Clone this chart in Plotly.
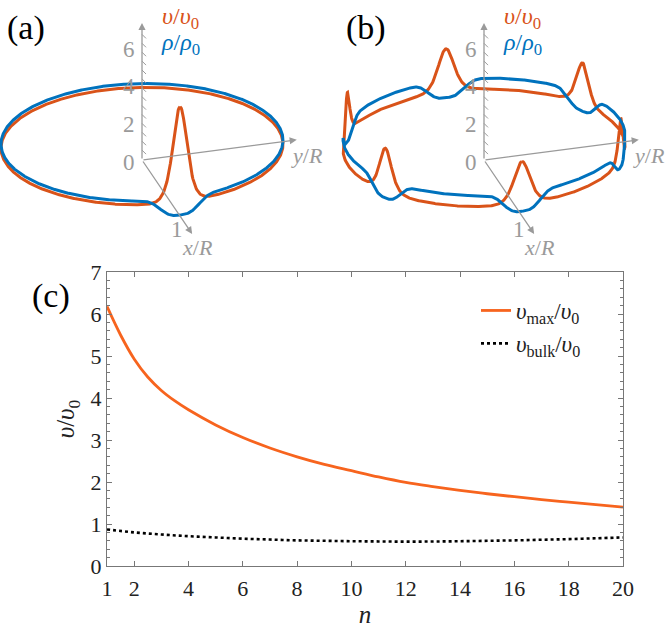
import numpy as np
import plotly.graph_objects as go

# ---------------- Panel (c) data ----------------
n_max = [1, 1.5, 2, 2.5, 3, 3.5, 4, 5, 6, 7, 8, 9, 10, 11, 12, 13, 14, 15, 16, 17, 18, 19, 20]
v_max = [6.18, 5.50, 4.93, 4.50, 4.18, 3.93, 3.72, 3.36, 3.06, 2.81, 2.60, 2.42, 2.27,
         2.12, 1.99, 1.89, 1.80, 1.72, 1.65, 1.58, 1.52, 1.46, 1.40]
n_bulk = list(range(1, 21))
v_bulk = [0.87, 0.80, 0.75, 0.71, 0.68, 0.65, 0.63, 0.61, 0.60, 0.59,
          0.585, 0.58, 0.583, 0.59, 0.60, 0.61, 0.625, 0.64, 0.66, 0.68]
x_tick_vals = [1, 2, 4, 6, 8, 10, 12, 14, 16, 18, 20]
y_tick_vals = [0, 1, 2, 3, 4, 5, 6, 7]

# ---------------- Panels (a), (b): ring profiles ----------------
ring_a_peak_angles = [0]
ring_a_v_peak = [6.14]
ring_a_rho_min = [0.05]
ring_a_v_base = 0.78
ring_a_rho_base = 1.0
ring_a_v_width = 4.0
ring_a_rho_width = 9.5

ring_b_peak_angles = [0, 60, 120, 180, 240, 300]
ring_b_v_peak = [3.06, 3.06, 3.02, 3.10, 3.08, 3.10]
ring_b_rho_min = [0.26, 0.3, 0.3, 0.35, 0.3, 0.3]
ring_b_v_base = 0.68
ring_b_rho_base = 1.3
ring_b_v_width = 4.5
ring_b_rho_width = 9.0

axis3d_tick_labels = [0, 2, 4, 6]
axis3d_hook_levels = [0.5 * k for k in range(1, 15)]

ORANGE = "#D95319"
BLUE = "#0072BD"
ORANGE_C = "#F7641E"
GRAY = "#9a9a9a"
FONT = "'Liberation Serif', 'Times New Roman', Times, serif"

# projection (pixels per unit)
EX = (38.0, 56.0)
EY = (135.8, -17.7)
EZ = 17.8


def profiles(angles, v_peak, rho_min, v_base, rho_base, wv, wr):
    phi = np.arange(0, 360.25, 0.25)
    v = np.full_like(phi, v_base)
    rho = np.full_like(phi, rho_base)
    for a, vp, rm in zip(angles, v_peak, rho_min):
        d = (phi - a + 180) % 360 - 180
        v += (vp - v_base) / np.cosh(d / wv) ** 2
        rho -= (rho_base - rm) * np.exp(-np.abs(d / wr) ** 3)
    return phi, v, rho


def project(ox, oy, x, y, z):
    X = ox + EX[0] * x + EY[0] * y
    Y = oy + EX[1] * x + EY[1] * y - EZ * z
    return X, Y


fig = go.Figure()

# ---------- panel (c) ----------
fig.add_trace(go.Scatter(x=n_max, y=v_max, mode="lines", line=dict(color=ORANGE_C, width=2.8, shape="spline"),
                         name="<i>υ</i><sub>max</sub>/<i>υ</i><sub>0</sub>", legendgroup="g1"))
fig.add_trace(go.Scatter(x=n_bulk, y=v_bulk, mode="lines", line=dict(color="black", width=2.6, dash="dot", shape="spline"),
                         name="<i>υ</i><sub>bulk</sub>/<i>υ</i><sub>0</sub>", legendgroup="g2"))

annotations = []

panels = [
    ("x2", "y2", 142.0, 160.0, ring_a_peak_angles, ring_a_v_peak, ring_a_rho_min, ring_a_v_base, ring_a_rho_base,
     ring_a_v_width, ring_a_rho_width),
    ("x3", "y3", 151.0, 160.0, ring_b_peak_angles, ring_b_v_peak, ring_b_rho_min, ring_b_v_base, ring_b_rho_base,
     ring_b_v_width, ring_b_rho_width),
]

for xr, yr, ox, oy, ang, vp, rm, vb, rb, wv, wr in panels:
    phi, v, rho = profiles(ang, vp, rm, vb, rb, wv, wr)
    c, s = np.cos(np.radians(phi)), np.sin(np.radians(phi))
    Xv, Yv = project(ox, oy, c, s, v)
    Xr, Yr = project(ox, oy, c, s, rho)
    fig.add_trace(go.Scatter(x=Xv, y=Yv, mode="lines", line=dict(color=ORANGE, width=3), xaxis=xr, yaxis=yr,
                             showlegend=False, hoverinfo="skip"))
    fig.add_trace(go.Scatter(x=Xr, y=Yr, mode="lines", line=dict(color=BLUE, width=3), xaxis=xr, yaxis=yr,
                             showlegend=False, hoverinfo="skip"))
    # hooks on vertical axis
    hx, hy = [], []
    for lv in axis3d_hook_levels:
        px, py = project(ox, oy, 0, 0, lv)
        hx += [px, px + 4, None]
        hy += [py - 1, py + 3, None]
    fig.add_trace(go.Scatter(x=hx, y=hy, mode="lines", line=dict(color=GRAY, width=1), xaxis=xr, yaxis=yr,
                             showlegend=False, hoverinfo="skip"))
    # axes arrows
    tips = [project(ox, oy, 0, 0, 7.7), project(ox, oy, 0, 1.14, 0), project(ox, oy, 1.32, 0, 0)]
    for tx, ty in tips:
        annotations.append(dict(x=tx, y=ty, ax=ox, ay=oy, xref=xr, yref=yr, axref=xr, ayref=yr, text="",
                                showarrow=True, arrowhead=2, arrowsize=1.1, arrowwidth=1.3, arrowcolor=GRAY))
    for t in axis3d_tick_labels:
        annotations.append(dict(x=ox - 13, y=oy + 2 - 18.8 * t, xref=xr, yref=yr, text=str(t), showarrow=False,
                                xanchor="center", yanchor="middle",
                                font=dict(family=FONT, size=23, color=GRAY)))
    fx, fy = project(ox, oy, 1, 0, 0)
    annotations.append(dict(x=fx - 3, y=fy + 13, xref=xr, yref=yr, text="1", showarrow=False,
                            xanchor="center", yanchor="middle", font=dict(family=FONT, size=23, color=GRAY)))
    annotations.append(dict(x=ox + 165, y=oy - 5, xref=xr, yref=yr, text="<i>y</i>/<i>R</i>", showarrow=False,
                            xanchor="center", yanchor="middle", font=dict(family=FONT, size=22, color=GRAY)))
    annotations.append(dict(x=ox + 55, y=oy + 87, xref=xr, yref=yr, text="<i>x</i>/<i>R</i>", showarrow=False,
                            xanchor="center", yanchor="middle", font=dict(family=FONT, size=22, color=GRAY)))
    annotations.append(dict(x=ox + 38, y=18, xref=xr, yref=yr, text="<i>υ</i>/<i>υ</i><sub>0</sub>",
                            showarrow=False, xanchor="center", yanchor="middle",
                            font=dict(family=FONT, size=24, color=ORANGE)))
    annotations.append(dict(x=ox + 38, y=44, xref=xr, yref=yr, text="<i>ρ</i>/<i>ρ</i><sub>0</sub>",
                            showarrow=False, xanchor="center", yanchor="middle",
                            font=dict(family=FONT, size=24, color=BLUE)))

W, H = 666, 629
for lbl, px, py in [("(a)", 26, 28), ("(b)", 366, 28), ("(c)", 51, 296)]:
    annotations.append(dict(x=px / W, y=1 - py / H, xref="paper", yref="paper", text=lbl, showarrow=False,
                            xanchor="center", yanchor="middle",
                            font=dict(family=FONT, size=34, color="black")))

axis_line = "#777777"
fig.update_layout(
    template="none",
    width=W, height=H, autosize=False,
    margin=dict(l=0, r=0, t=0, b=0, autoexpand=False),
    paper_bgcolor="white", plot_bgcolor="white",
    font=dict(family=FONT, color="#222"),
    annotations=annotations,
    showlegend=True,
    legend=dict(x=476 / W, y=1 - 289 / H, xanchor="left", yanchor="top", bgcolor="rgba(0,0,0,0)",
                borderwidth=0, font=dict(family=FONT, size=23, color="#222"), traceorder="grouped",
                tracegroupgap=0),
    xaxis=dict(domain=[107 / W, 623 / W], range=[1, 20], tickvals=x_tick_vals, ticks="inside", ticklen=5,
               tickcolor=axis_line, showline=True, linecolor=axis_line, linewidth=1, mirror="allticks",
               showgrid=False, zeroline=False, automargin=False, ticklabelstandoff=3,
               tickfont=dict(family=FONT, size=22, color="#222"),
               title=dict(text="<i>n</i>", font=dict(family=FONT, size=25, color="#222"), standoff=2)),
    yaxis=dict(domain=[1 - 566 / H, 1 - 272 / H], range=[0, 7], tickvals=y_tick_vals, ticks="inside", ticklen=5,
               tickcolor=axis_line, showline=True, linecolor=axis_line, linewidth=1, mirror="allticks",
               minor=dict(dtick=0.2, ticks="inside", ticklen=3, tickcolor=axis_line, showgrid=False),
               showgrid=False, zeroline=False, automargin=False,
               tickfont=dict(family=FONT, size=22, color="#222"),
               title=dict(text="<i>υ</i>/<i>υ</i><sub>0</sub>", font=dict(family=FONT, size=25, color="#222"),
                          standoff=8)),
    xaxis2=dict(domain=[0, 0.5], range=[0, 333], visible=False, fixedrange=True, automargin=False),
    yaxis2=dict(domain=[1 - 260 / H, 1], range=[260, 0], visible=False, fixedrange=True, automargin=False),
    xaxis3=dict(domain=[0.5, 1], range=[0, 333], visible=False, fixedrange=True, automargin=False),
    yaxis3=dict(domain=[1 - 260 / H, 1], range=[260, 0], visible=False, fixedrange=True, automargin=False),
)

fig.write_html("out.html", config={"displayModeBar": False},
               post_script="document.body.style.margin='0px';document.body.style.padding='0px';")
